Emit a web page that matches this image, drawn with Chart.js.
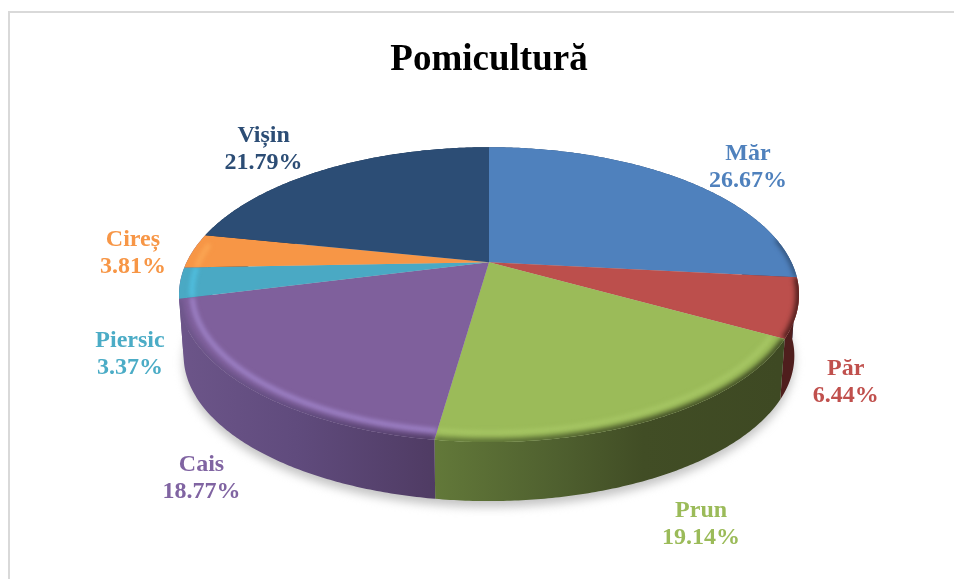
<!DOCTYPE html>
<html lang="ro">
<head>
<meta charset="utf-8">
<title>Pomicultură</title>
<style>
html,body{margin:0;padding:0;background:#fff;overflow:hidden}
#frame{position:absolute;left:8px;top:11px;right:-4px;bottom:-4px;border-left:2px solid #d9d9d9;border-top:2px solid #d9d9d9}
canvas{position:absolute;left:0;top:0;display:block}
</style>
<script src="https://cdn.jsdelivr.net/npm/chart.js@4"></script>
</head>
<body>
<div id="frame"></div>
<canvas id="c" width="954" height="579"></canvas>
<script>
const categories = ["Măr","Păr","Prun","Cais","Piersic","Cireș","Vișin"];
const shares = [26.67,6.44,19.14,18.77,3.37,3.81,21.79];
const faceColors = ["#4f81bd","#bc4f4c","#9bbb59","#7f609c","#4aa9c4","#f79646","#2c4d75"];
const labelColors = ["#4f81bd","#c0504d","#9bbb59","#8064a2","#4bacc6","#f79646","#2c4d75"];
const sideFrom = [437,437,437,180,180,180,180];
const sideTo = [780,780,780,437,437,437,437];
const sideStops = [
  [[0,"#2b476b"],[1,"#2b476b"]],
  [[0,"#4f1e1d"],[1,"#4f1e1d"]],
  [[0,"#627839"],[0.35,"#4f602f"],[0.6,"#414d25"],[1,"#3e4923"]],
  [[0,"#6c5589"],[0.45,"#604b7d"],[1,"#4f3b63"]],
  [[0,"#6c5589"],[1,"#6c5589"]],
  [[0,"#6c5589"],[1,"#6c5589"]],
  [[0,"#1e3551"],[1,"#1e3551"]]
];
const lipColors = [null,null,"#a6c664","#9d81c6","#50bfdf","#fba654",null];
const darkLipWidths = [4,7,7,7,0,0,0];
const labelOffsets = [[63,-13],[48,75.5],[45,106],[-46,92],[-50,71.5],[-60,3],[-62,-20]];

const TILT = 0.464, PERSP = 0.22, BOTTOM_SCALE = 0.985, DEPTH = 0.204, RADIUS = 302.4;

function project(arc, theta, r, bottom){
  const u = Math.sin(theta)*r, v = -Math.cos(theta)*r;
  const w = 1/(1-PERSP*v), R = arc.outerRadius;
  let X = R*u*w, Y = R*TILT*v*w;
  if(bottom){ X *= BOTTOM_SCALE; Y = Y*BOTTOM_SCALE + R*DEPTH; }
  return [arc.x+X, arc.y+Y];
}
function rimTrace(ctx, arc, a, b, r, bottom, move){
  const n = Math.max(2, Math.ceil(Math.abs(b-a)/0.01));
  for(let i=0;i<=n;i++){
    const p = project(arc, a+(b-a)*i/n, r, bottom);
    if(i===0 && move) ctx.moveTo(p[0],p[1]); else ctx.lineTo(p[0],p[1]);
  }
}
function thetas(arc){ return [arc.startAngle+Math.PI/2, arc.endAngle+Math.PI/2]; }
function sideGradient(ctx,i){
  const g = ctx.createLinearGradient(sideFrom[i],0,sideTo[i],0);
  sideStops[i].forEach(s=>g.addColorStop(s[0],s[1]));
  return g;
}

const pie3d = {
  id:"pie3d",
  beforeDatasetDraw(chart){
    const ctx = chart.ctx, arcs = chart.getDatasetMeta(0).data;
    const first = arcs[0], TAU = Math.PI*2;
    ctx.save();
    ctx.filter = "blur(5px)";
    ctx.fillStyle = "#c4c4c4";
    ctx.translate(0,6);
    ctx.beginPath();
    rimTrace(ctx, first, 0, TAU, 1, true, true);
    ctx.closePath(); ctx.fill();
    ctx.restore();
    arcs.forEach((arc,i)=>{
      const [a,b] = thetas(arc);
      ctx.fillStyle = sideGradient(ctx,i);
      ctx.beginPath();
      rimTrace(ctx, arc, a, b, 1, false, true);
      rimTrace(ctx, arc, b, a, 1, true, false);
      ctx.closePath(); ctx.fill();
    });
    arcs.forEach((arc,i)=>{
      const [a,b] = thetas(arc);
      const slice = ()=>{
        ctx.beginPath(); ctx.moveTo(arc.x,arc.y);
        rimTrace(ctx, arc, a, b, 1, false, false);
        ctx.closePath();
      };
      ctx.fillStyle = faceColors[i];
      slice(); ctx.fill();
      ctx.save();
      slice(); ctx.clip();
      const lo = Math.max(a,1.4), hi = Math.min(b,4.85);
      if(lo<hi){
        if(lipColors[i]){
          ctx.filter = "blur(2px)";
          ctx.strokeStyle = lipColors[i];
          ctx.lineWidth = 5;
          ctx.beginPath(); rimTrace(ctx, arc, lo, hi, 0.96, false, true); ctx.stroke();
        }
        if(darkLipWidths[i]){
          ctx.filter = "blur(2.5px)";
          ctx.strokeStyle = sideGradient(ctx,i);
          ctx.lineWidth = darkLipWidths[i];
          ctx.beginPath(); rimTrace(ctx, arc, lo, hi, 1.0, false, true); ctx.stroke();
        }
      }
      ctx.restore();
    });
    return false;
  },
  afterDatasetsDraw(chart){
    const ctx = chart.ctx, arcs = chart.getDatasetMeta(0).data;
    ctx.save();
    ctx.font = "bold 24px 'Liberation Serif'";
    ctx.textAlign = "center";
    ctx.textBaseline = "middle";
    arcs.forEach((arc,i)=>{
      const [a,b] = thetas(arc);
      const p = project(arc,(a+b)/2,1,false);
      const x = p[0]+labelOffsets[i][0], y = p[1]+labelOffsets[i][1];
      ctx.fillStyle = labelColors[i];
      ctx.fillText(categories[i], x, y-14);
      ctx.fillText(shares[i].toFixed(2)+"%", x, y+13);
    });
    ctx.restore();
  }
};

new Chart(document.getElementById("c"),{
  type:"pie",
  data:{labels:categories,datasets:[{data:shares,backgroundColor:faceColors,borderWidth:0}]},
  options:{
    responsive:false,
    animation:false,
    radius:RADIUS,
    layout:{padding:{left:24,right:0,top:38,bottom:137}},
    plugins:{
      legend:{display:false},
      tooltip:{enabled:false},
      title:{display:true,text:"Pomicultură",color:"#000",
        font:{family:"'Liberation Serif'",size:37,weight:"bold",lineHeight:1.2},
        padding:{top:0,bottom:0}}
    }
  },
  plugins:[pie3d]
});
</script>
</body>
</html>
